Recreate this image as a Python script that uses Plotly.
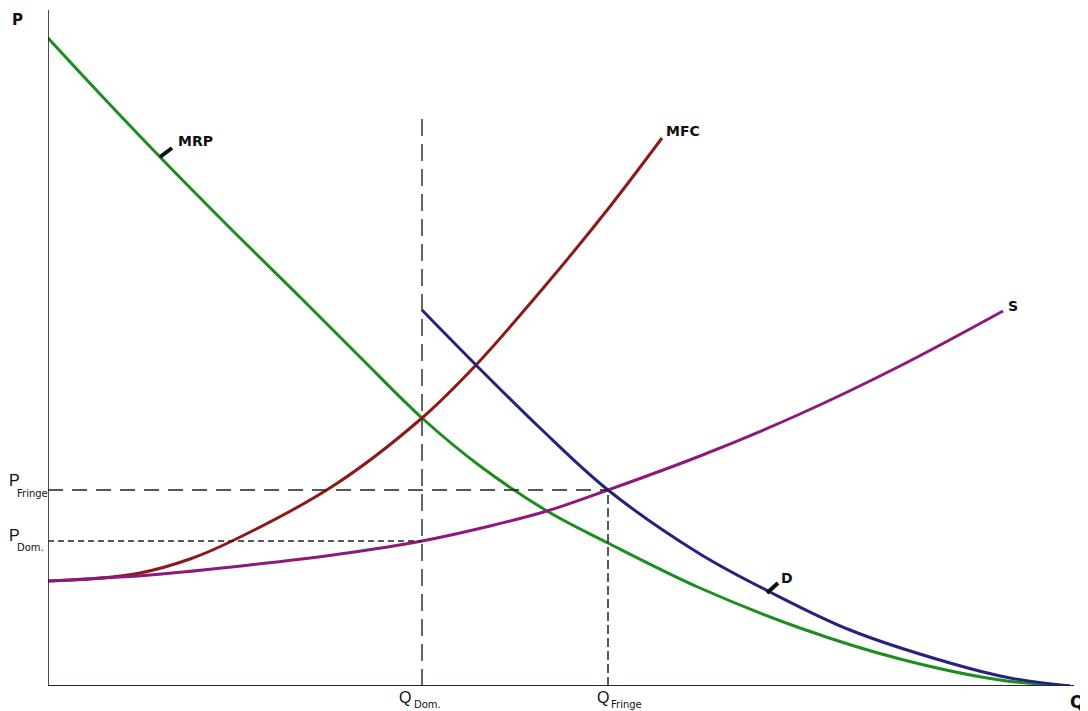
import plotly.graph_objects as go

# ---- data (Q, P units; origin at the axes corner) ----
mrp_q = [0, 5.2, 11.2, 18.2, 25.2, 31.2, 37.4, 43.2, 49.9, 56.0, 65.2, 75.2, 85.2, 95.2, 102.2]
mrp_p = [64.8, 59.2, 52.9, 45.8, 38.9, 32.9, 26.8, 22.0, 17.5, 14.3, 9.8, 5.8, 2.7, 0.6, 0.0]

mfc_q = [0, 4.2, 9.2, 14.2, 18.4, 28.5, 37.4, 42.8, 49.7, 56.0, 61.4]
mfc_p = [10.5, 10.7, 11.3, 12.7, 14.5, 20.0, 26.8, 32.1, 40.0, 47.7, 54.8]

s_q = [0, 10.2, 20.2, 29.2, 37.4, 44.2, 49.9, 56.0, 65.2, 75.2, 85.2, 95.5]
s_p = [10.5, 11.1, 12.1, 13.2, 14.5, 16.0, 17.5, 19.6, 23.0, 27.2, 32.0, 37.5]

d_q = [37.4, 42.8, 49.2, 56.0, 65.2, 72.2, 80.2, 90.2, 96.2, 102.2]
d_p = [37.6, 32.1, 25.8, 19.6, 13.2, 9.4, 5.6, 2.3, 0.8, 0.0]

q_dom, q_fringe = 37.4, 56.0
p_dom, p_fringe = 14.5, 19.6
q_dom_top = 57.1
x_max, y_max = 104.8, 67.8

colors = {"MRP": "#1e8c1e", "MFC": "#8c1a1a", "S": "#8c1a7c", "D": "#24247f"}

fig = go.Figure()
for name, qs, ps in [("MRP", mrp_q, mrp_p), ("MFC", mfc_q, mfc_p),
                     ("S", s_q, s_p), ("D", d_q, d_p)]:
    fig.add_trace(go.Scatter(x=qs, y=ps, mode="lines", name=name,
                             line=dict(color=colors[name], width=3, shape="spline", smoothing=1.0),
                             hoverinfo="skip"))

shapes = []
# axes
shapes.append(dict(type="line", x0=0, x1=0, y0=0, y1=67.6, line=dict(color="#111", width=1.5)))
shapes.append(dict(type="line", x0=0, x1=102.6, y0=0, y1=0, line=dict(color="#22224f", width=2)))
# dashed guides
shapes.append(dict(type="line", x0=q_dom, x1=q_dom, y0=0, y1=q_dom_top,
                   line=dict(color="#333", width=1.5, dash="17px,8px")))
shapes.append(dict(type="line", x0=0, x1=q_fringe, y0=p_fringe, y1=p_fringe,
                   line=dict(color="#222", width=1.3, dash="15px,9px")))
shapes.append(dict(type="line", x0=0, x1=q_dom, y0=p_dom, y1=p_dom,
                   line=dict(color="#222", width=1.3, dash="6px,4px")))
shapes.append(dict(type="line", x0=q_fringe, x1=q_fringe, y0=0, y1=p_fringe,
                   line=dict(color="#222", width=1.5, dash="9px,4px")))
# label leader ticks
shapes.append(dict(type="line", x0=11.2, x1=12.4, y0=52.9, y1=53.8, line=dict(color="#111", width=4)))
shapes.append(dict(type="line", x0=71.9, x1=73.0, y0=9.3, y1=10.3, line=dict(color="#111", width=4)))

bold = dict(family="DejaVu Sans", size=14, color="#111")
ann = []
def a(q, p, text, font, xanchor="left", yanchor="middle"):
    ann.append(dict(x=q / x_max, y=p / y_max, xref="paper", yref="paper", text=text,
                    showarrow=False, font=font, xanchor=xanchor, yanchor=yanchor))

a(12.8, 54.5, "<b>MRP</b>", bold)
a(61.6, 55.5, "<b>MFC</b>", bold)
a(95.8, 38.0, "<b>S</b>", bold)
a(73.1, 10.8, "<b>D</b>", bold)
a(-3.1, 66.6, "<b>P</b>", dict(family="DejaVu Sans", size=15, color="#111"), xanchor="center")
a(103.8, -1.6, "<b>Q</b>", dict(family="DejaVu Sans", size=17, color="#111"), xanchor="right")

regP = dict(family="Liberation Sans", size=16, color="#111")
sub = dict(family="DejaVu Sans", size=10, color="#111")
a(-4.1, 20.6, "P", regP)
a(-3.3, 19.3, "Fringe", sub)
a(-4.1, 15.1, "P", regP)
a(-3.3, 13.9, "Dom.", sub)
a(34.9, -1.1, "Q", regP)
a(36.4, -1.8, "Dom.", sub)
a(54.7, -1.1, "Q", regP)
a(56.1, -1.8, "Fringe", sub)

fig.update_layout(
    width=1088, height=711,
    margin=dict(l=40, r=0, t=0, b=33),
    paper_bgcolor="white", plot_bgcolor="white",
    showlegend=False,
    xaxis=dict(range=[0, x_max], visible=False, fixedrange=True),
    yaxis=dict(range=[0, y_max], visible=False, fixedrange=True),
    shapes=shapes, annotations=ann,
)

fig.write_html("out.html")
